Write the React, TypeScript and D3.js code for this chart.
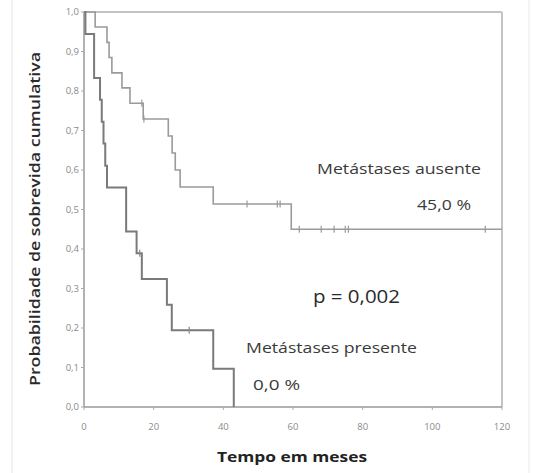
import React from 'react';
import { scaleLinear, line, curveStepAfter } from 'd3';

// Metástases ausente (upper curve)
const ausenteTimes = [0, 3.2, 6.6, 7.2, 8.0, 10.9, 13.2, 17.0, 24.2, 25.3, 26.2, 27.6, 37.1, 59.5, 120];
const ausenteValues = [1.0, 0.962, 0.923, 0.885, 0.846, 0.808, 0.769, 0.729, 0.686, 0.643, 0.6, 0.557, 0.514, 0.45, 0.45];
const ausenteCensorTimes = [16.6, 17.2, 46.8, 55.5, 56.3, 61.8, 68.1, 71.8, 75.0, 75.9, 115.2];
const ausenteCensorValues = [0.769, 0.729, 0.514, 0.514, 0.514, 0.45, 0.45, 0.45, 0.45, 0.45, 0.45];

// Metástases presente (lower curve)
const presenteTimes = [0, 0.4, 2.9, 4.6, 5.1, 5.6, 6.1, 6.6, 12.1, 15.1, 16.6, 23.8, 25.2, 37.1, 43.0];
const presenteValues = [1.0, 0.944, 0.833, 0.778, 0.722, 0.667, 0.611, 0.556, 0.444, 0.389, 0.324, 0.259, 0.194, 0.097, 0];
const presenteCensorTimes = [16.0, 30.2];
const presenteCensorValues = [0.389, 0.194];

const xTicks = [0, 20, 40, 60, 80, 100, 120];
const yTicks = [0, 0.1, 0.2, 0.3, 0.4, 0.5, 0.6, 0.7, 0.8, 0.9, 1.0];

const W = 534, H = 473;
const font = '"Open Sans", "Noto Sans", sans-serif';

export default function App() {
  const x = scaleLinear().domain([0, 120]).range([84, 502]);
  const y = scaleLinear().domain([0, 1]).range([407, 12]);

  const stepLine = line<[number, number]>()
    .x(d => x(d[0]))
    .y(d => y(d[1]))
    .curve(curveStepAfter);

  const ausente = ausenteTimes.map((t, i) => [t, ausenteValues[i]] as [number, number]);
  const presente = presenteTimes.map((t, i) => [t, presenteValues[i]] as [number, number]);

  const fmt = (v: number) => v.toFixed(1).replace('.', ',');
  const stretch = { lengthAdjust: 'spacingAndGlyphs' } as any;

  return (
    <div style={{ position: 'fixed', left: 0, top: 0 }}>
      <svg width={W} height={H} style={{ display: 'block', background: '#fff' }}>
        {/* faint outer border of the scanned figure */}
        <line x1={12} y1={0} x2={12} y2={H} stroke="#eeeeee" strokeWidth={1.5} />
        <line x1={529} y1={0} x2={529} y2={H} stroke="#f0f0f0" strokeWidth={1.5} />

        {/* frame top / right */}
        <line x1={x(0)} y1={y(1)} x2={x(120)} y2={y(1)} stroke="#c4c4c4" strokeWidth={2} />
        <line x1={x(120)} y1={y(1)} x2={x(120)} y2={y(0)} stroke="#c4c4c4" strokeWidth={2} />

        {/* axes */}
        <line x1={x(0)} y1={y(0)} x2={x(120)} y2={y(0)} stroke="#999" strokeWidth={1.5} />
        <line x1={x(0)} y1={y(0)} x2={x(0)} y2={y(1)} stroke="#999" strokeWidth={1.5} />

        {yTicks.map(t => (
          <g key={'y' + t}>
            <line x1={x(0) - 3} x2={x(0)} y1={y(t)} y2={y(t)} stroke="#aaa" />
            <text x={x(0) - 5} y={y(t) + 3} textAnchor="end" fontSize={9.5} fill="#8a8a8a" fontFamily={font}>
              {fmt(t)}
            </text>
          </g>
        ))}
        {xTicks.map(t => (
          <g key={'x' + t}>
            <line x1={x(t)} x2={x(t)} y1={y(0)} y2={y(0) + 3} stroke="#aaa" />
            <text x={x(t)} y={y(0) + 23} textAnchor="middle" fontSize={9.5} fill="#8a8a8a" fontFamily={font}>
              {t}
            </text>
          </g>
        ))}

        {/* survival curves */}
        <path d={stepLine(ausente) || ''} fill="none" stroke="#9a9a9a" strokeWidth={1.6} />
        <path d={stepLine(presente) || ''} fill="none" stroke="#7a7a7a" strokeWidth={2} />

        {ausenteCensorTimes.map((t, i) => (
          <line key={'ca' + i} x1={x(t)} x2={x(t)} y1={y(ausenteCensorValues[i]) - 3.5} y2={y(ausenteCensorValues[i]) + 3.5}
            stroke="#9a9a9a" strokeWidth={1.2} />
        ))}
        {presenteCensorTimes.map((t, i) => (
          <line key={'cp' + i} x1={x(t)} x2={x(t)} y1={y(presenteCensorValues[i]) - 3.5} y2={y(presenteCensorValues[i]) + 3.5}
            stroke="#8a8a8a" strokeWidth={1.2} />
        ))}

        {/* annotations */}
        <text x={317} y={174} fontSize={15} fill="#3a3a3a" fontFamily={font} textLength={164} {...stretch}>Metástases ausente</text>
        <text x={417} y={210} fontSize={15} fill="#3a3a3a" fontFamily={font} textLength={54} {...stretch}>45,0 %</text>
        <text x={313} y={303} fontSize={18} fill="#2a2a2a" fontFamily={font} textLength={87} {...stretch}>p = 0,002</text>
        <text x={246} y={353} fontSize={15} fill="#3a3a3a" fontFamily={font} textLength={171} {...stretch}>Metástases presente</text>
        <text x={253} y={390} fontSize={15} fill="#3a3a3a" fontFamily={font} textLength={47} {...stretch}>0,0 %</text>

        {/* axis titles */}
        <text x={292} y={462} textAnchor="middle" fontSize={14} fontWeight={700} fill="#222" fontFamily={font}
          textLength={150} {...stretch}>
          Tempo em meses
        </text>
        <text transform="translate(40,219) rotate(-90)" textAnchor="middle" fontSize={14.5} fontWeight={600} fill="#2a2a2a"
          fontFamily={font} textLength={334} {...stretch}>
          Probabilidade de sobrevida cumulativa
        </text>
      </svg>
    </div>
  );
}
